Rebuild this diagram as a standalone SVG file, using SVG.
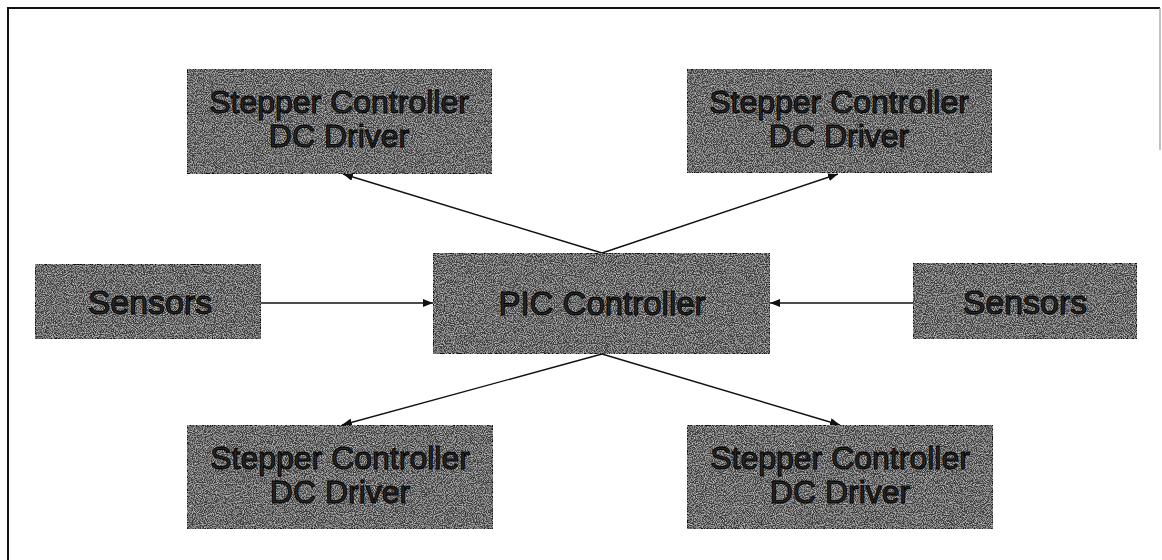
<svg xmlns="http://www.w3.org/2000/svg" width="1162" height="560" viewBox="0 0 1162 560">
  <style>
    .box { fill: #3e3e3e; stroke: #0a0a0a; stroke-width: 2; filter: url(#grain); }
    .lbl { font-family: "Liberation Sans", Arial, sans-serif; font-size: 32px; fill: #262626; stroke: #000000; stroke-width: 0.9; text-anchor: middle; }
    .wire { stroke: #111111; stroke-width: 1.4; fill: none; marker-end: url(#tip); }
    .frame { stroke: #111111; stroke-width: 2; fill: none; }
  </style>
  <defs>
    <!-- speckled halftone texture for the node fills -->
    <filter id="grain" x="0" y="0" width="100%" height="100%">
      <feTurbulence type="fractalNoise" baseFrequency="0.9" numOctaves="2" seed="7" result="noise"/>
      <feColorMatrix in="noise" type="matrix"
        values="0 0 0 0 0.6
                0 0 0 0 0.6
                0 0 0 0 0.6
                2.2 0 0 0 -0.9" result="spots"/>
      <feComposite in="spots" in2="SourceGraphic" operator="atop" result="tex"/>
      <feMerge>
        <feMergeNode in="SourceGraphic"/>
        <feMergeNode in="tex"/>
      </feMerge>
    </filter>
    <marker id="tip" viewBox="0 0 10 8" refX="10" refY="4" markerWidth="10" markerHeight="8" markerUnits="userSpaceOnUse" orient="auto">
      <path d="M0,0 L10,4 L0,8 Z" fill="#111111"/>
    </marker>
  </defs>

  <!-- page frame -->
  <path class="frame" d="M8,560 L8,8 L1160,8"/>
  <path d="M1160,8 L1160,150" stroke="#9a9a9a" stroke-width="1.2" fill="none"/>

  <!-- connectors -->
  <g id="connectors">
    <line class="wire" x1="602" y1="253" x2="343" y2="174"/>
    <line class="wire" x1="602" y1="253" x2="838" y2="174"/>
    <line class="wire" x1="602" y1="354" x2="342" y2="425"/>
    <line class="wire" x1="602" y1="354" x2="840" y2="425"/>
    <line class="wire" x1="261" y1="303" x2="433" y2="303"/>
    <line class="wire" x1="913" y1="303" x2="770" y2="303"/>
  </g>

  <g id="stepper-top-left">
    <rect class="box" x="187" y="69" width="305" height="105"/>
    <text class="lbl" x="339" y="113">Stepper Controller</text>
    <text class="lbl" x="339" y="147">DC Driver</text>
  </g>

  <g id="stepper-top-right">
    <rect class="box" x="687" y="69" width="305" height="104"/>
    <text class="lbl" x="839" y="113">Stepper Controller</text>
    <text class="lbl" x="839" y="147">DC Driver</text>
  </g>

  <g id="sensors-left">
    <rect class="box" x="35" y="264" width="226" height="75"/>
    <text class="lbl" x="150" y="314" style="font-size:34px">Sensors</text>
  </g>

  <g id="pic-controller">
    <rect class="box" x="433" y="253" width="337" height="101"/>
    <text class="lbl" x="602" y="315" style="font-size:33px">PIC Controller</text>
  </g>

  <g id="sensors-right">
    <rect class="box" x="913" y="263" width="224" height="76"/>
    <text class="lbl" x="1025" y="314" style="font-size:34px">Sensors</text>
  </g>

  <g id="stepper-bottom-left">
    <rect class="box" x="187" y="425" width="306" height="104"/>
    <text class="lbl" x="340" y="469">Stepper Controller</text>
    <text class="lbl" x="340" y="503">DC Driver</text>
  </g>

  <g id="stepper-bottom-right">
    <rect class="box" x="687" y="425" width="306" height="104"/>
    <text class="lbl" x="840" y="469">Stepper Controller</text>
    <text class="lbl" x="840" y="503">DC Driver</text>
  </g>
</svg>
